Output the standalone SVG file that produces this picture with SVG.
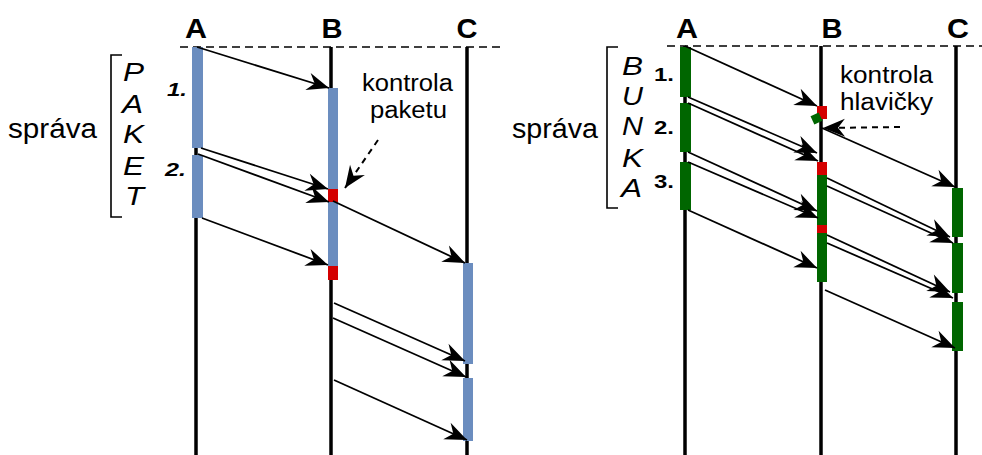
<svg xmlns="http://www.w3.org/2000/svg" width="982" height="455" viewBox="0 0 982 455">
<defs>
<marker id="ah" markerUnits="userSpaceOnUse" markerWidth="24" markerHeight="20" refX="22" refY="9" orient="auto" overflow="visible">
<path d="M0,0 L22,9 L0,18 L7,9 Z" fill="#000"/>
</marker>
</defs>
<style>
.life{stroke:#000;stroke-width:3.5;fill:none}
.dash{stroke:#000;stroke-width:1.6;stroke-dasharray:8,5;fill:none}
.msg{stroke:#000;stroke-width:1.8;fill:none;marker-end:url(#ah)}
.note{stroke:#000;stroke-width:2;stroke-dasharray:6,5;fill:none;marker-end:url(#ah)}
.br{stroke:#000;stroke-width:1.6;fill:none}
.blue{fill:#6b8dbf}
.red{fill:#d40000}
.green{fill:#006600}
.t{font-family:"Liberation Sans",Arial,sans-serif;fill:#000}
.title{font-size:28px;font-weight:bold;text-anchor:middle}
.lab{font-size:23px}
.sp{font-size:27px}
.it{font-size:26px;font-style:italic}
.num{font-size:19px;font-weight:bold;font-style:italic}
.numr{font-size:19px;font-weight:bold}
</style>
<rect width="982" height="455" fill="#fff"/>

<!-- LEFT DIAGRAM -->
<g id="left-header">
<line class="dash" x1="180" y1="47" x2="500" y2="47"/>
<text class="t title" x="196" y="38" textLength="22" lengthAdjust="spacingAndGlyphs">A</text>
<text class="t title" x="332" y="38" textLength="21" lengthAdjust="spacingAndGlyphs">B</text>
<text class="t title" x="467" y="38" textLength="21" lengthAdjust="spacingAndGlyphs">C</text>
</g>
<g id="left-A">
<line class="life" x1="196" y1="47" x2="196" y2="455"/>
<rect class="blue" x="192" y="47" width="11" height="101"/>
<rect class="blue" x="192" y="155" width="11" height="63"/>
</g>
<g id="left-B">
<line class="life" x1="331" y1="47" x2="331" y2="455"/>
<rect class="blue" x="328" y="88" width="10" height="101"/>
<rect class="red" x="328" y="189" width="10" height="13"/>
<rect class="blue" x="328" y="202" width="10" height="64"/>
<rect class="red" x="328" y="266" width="10" height="14"/>
</g>
<g id="left-C">
<line class="life" x1="467" y1="47" x2="467" y2="455"/>
<rect class="blue" x="463" y="263" width="10" height="101"/>
<rect class="blue" x="463" y="378" width="10" height="63"/>
</g>
<g id="left-message">
<path class="br" d="M122,55 H111 V217 H122"/>
<text class="t sp" x="8" y="138" textLength="89" lengthAdjust="spacingAndGlyphs">správa</text>
<text class="t it" x="123" y="81" textLength="21" lengthAdjust="spacingAndGlyphs">P</text>
<text class="t it" x="122" y="113" textLength="21" lengthAdjust="spacingAndGlyphs">A</text>
<text class="t it" x="123" y="143" textLength="21" lengthAdjust="spacingAndGlyphs">K</text>
<text class="t it" x="123" y="175" textLength="21" lengthAdjust="spacingAndGlyphs">E</text>
<text class="t it" x="125" y="205" textLength="19" lengthAdjust="spacingAndGlyphs">T</text>
<text class="t num" x="167" y="96" textLength="20" lengthAdjust="spacingAndGlyphs">1.</text>
<text class="t num" x="165" y="176" textLength="21" lengthAdjust="spacingAndGlyphs">2.</text>
</g>
<g id="left-note">
<text class="t lab" x="362" y="91" textLength="91" lengthAdjust="spacingAndGlyphs">kontrola</text>
<text class="t lab" x="370" y="118" textLength="77" lengthAdjust="spacingAndGlyphs">paketu</text>
</g>

<!-- RIGHT DIAGRAM -->
<g id="right-header">
<line class="dash" x1="667" y1="46" x2="982" y2="46"/>
<text class="t title" x="687" y="38" textLength="22" lengthAdjust="spacingAndGlyphs">A</text>
<text class="t title" x="832" y="38" textLength="21" lengthAdjust="spacingAndGlyphs">B</text>
<text class="t title" x="958" y="38" textLength="22" lengthAdjust="spacingAndGlyphs">C</text>
</g>
<g id="right-A">
<line class="life" x1="685" y1="46" x2="685" y2="455"/>
<rect class="green" x="680" y="47" width="11" height="50"/>
<rect class="green" x="680" y="103" width="11" height="49"/>
<rect class="green" x="680" y="162" width="11" height="48"/>
</g>
<g id="right-B">
<line class="life" x1="821" y1="46" x2="821" y2="455"/>
<rect class="red" x="817" y="106" width="10" height="13"/>
<rect class="green" x="812" y="114" width="9" height="9" transform="rotate(-25 816.5 118.5)"/>
<rect class="red" x="817" y="162" width="10" height="13"/>
<rect class="green" x="817" y="175" width="10" height="50"/>
<rect class="red" x="817" y="225" width="10" height="8"/>
<rect class="green" x="817" y="233" width="10" height="49"/>
</g>
<g id="right-C">
<line class="life" x1="956" y1="46" x2="956" y2="455"/>
<rect class="green" x="952" y="188" width="11" height="49"/>
<rect class="green" x="952" y="243" width="11" height="50"/>
<rect class="green" x="952" y="302" width="11" height="49"/>
</g>
<g id="right-message">
<path class="br" d="M618,47 H607 V208 H618"/>
<text class="t sp" x="512" y="138" textLength="86" lengthAdjust="spacingAndGlyphs">správa</text>
<text class="t it" x="622" y="75" textLength="21" lengthAdjust="spacingAndGlyphs">B</text>
<text class="t it" x="622" y="105" textLength="21" lengthAdjust="spacingAndGlyphs">U</text>
<text class="t it" x="622" y="135" textLength="21" lengthAdjust="spacingAndGlyphs">N</text>
<text class="t it" x="622" y="167" textLength="21" lengthAdjust="spacingAndGlyphs">K</text>
<text class="t it" x="621" y="197" textLength="21" lengthAdjust="spacingAndGlyphs">A</text>
<text class="t numr" x="654" y="81" textLength="20" lengthAdjust="spacingAndGlyphs">1.</text>
<text class="t numr" x="654" y="134" textLength="20" lengthAdjust="spacingAndGlyphs">2.</text>
<text class="t numr" x="654" y="188" textLength="20" lengthAdjust="spacingAndGlyphs">3.</text>
</g>
<g id="right-note">
<text class="t lab" x="840" y="83" textLength="93" lengthAdjust="spacingAndGlyphs">kontrola</text>
<text class="t lab" x="840" y="110" textLength="93" lengthAdjust="spacingAndGlyphs">hlavičky</text>
</g>

<g id="connectors">
<!-- left -->
<line class="msg" x1="197" y1="47" x2="329" y2="88"/>
<line class="msg" x1="201" y1="148" x2="328" y2="189"/>
<line class="msg" x1="198" y1="154" x2="329" y2="202"/>
<line class="msg" x1="333" y1="201" x2="465" y2="263"/>
<line class="msg" x1="202" y1="218" x2="328" y2="265"/>
<line class="msg" x1="334" y1="303" x2="465" y2="361"/>
<line class="msg" x1="333" y1="318" x2="466" y2="377"/>
<line class="msg" x1="334" y1="380" x2="467" y2="440"/>
<line class="note" x1="378" y1="140" x2="345" y2="188"/>
<!-- right -->
<line class="msg" x1="685" y1="46" x2="817" y2="106"/>
<line class="msg" x1="688" y1="97" x2="817" y2="153"/>
<line class="msg" x1="688" y1="103" x2="818" y2="161"/>
<line class="msg" x1="688" y1="152" x2="817" y2="211"/>
<line class="msg" x1="688" y1="162" x2="818" y2="218"/>
<line class="msg" x1="688" y1="210" x2="817" y2="268"/>
<line class="msg" x1="822" y1="128" x2="955" y2="187"/>
<line class="msg" x1="827" y1="178" x2="950" y2="237"/>
<line class="msg" x1="827" y1="186" x2="953" y2="243"/>
<line class="msg" x1="827" y1="235" x2="950" y2="292"/>
<line class="msg" x1="827" y1="243" x2="953" y2="298"/>
<line class="msg" x1="825" y1="290" x2="955" y2="348"/>
<line class="note" x1="900" y1="127" x2="823" y2="128"/>
</g>
</svg>
